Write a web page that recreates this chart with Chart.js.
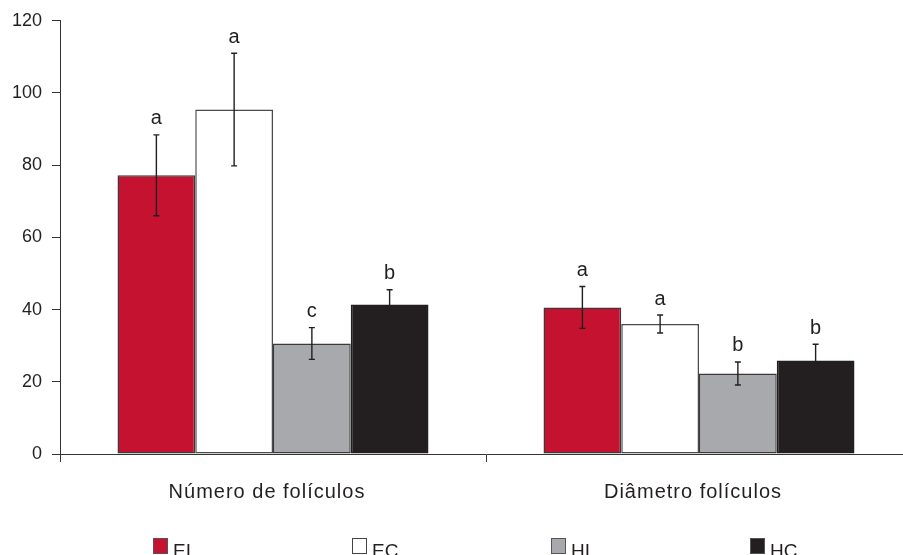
<!DOCTYPE html>
<html>
<head>
<meta charset="utf-8">
<script src="https://cdn.jsdelivr.net/npm/chart.js@4/dist/chart.umd.min.js"></script>
<style>
  html, body { margin: 0; padding: 0; background: #fff; overflow: hidden; }
  /* plot runs a few px past the right edge, like the axis line does */
  #wrap { width: 912px; height: 555px; }
</style>
</head>
<body>
<div id="wrap"><canvas id="chart"></canvas></div>
<script>
const categories = ['Número de folículos', 'Diâmetro folículos'];
const groups = ['EI', 'EC', 'HI', 'HC'];

const valEI = [77.2, 40.6];
const valEC = [95.4, 36.0];
const valHI = [30.6, 22.3];
const valHC = [41.4, 25.9];

const errEI = [11.2, 5.8];
const errEC = [15.6, 2.5];
const errHI = [4.4, 3.2];
const errHC = [4.1, 4.5];

const letEI = ['a', 'a'];
const letEC = ['a', 'a'];
const letHI = ['c', 'b'];
const letHC = ['b', 'b'];

const yTicks = [0, 20, 40, 60, 80, 100, 120];

const ink = '#231f20';
const fontFam = '"Liberation Sans", Arial, sans-serif';

function ds(label, data, err, letters, fill, border) {
  return {
    label: label,
    data: data,
    err: err,
    letters: letters,
    backgroundColor: fill,
    borderColor: border,
    borderWidth: 1.5,
    borderSkipped: false,
    barPercentage: 1,
    categoryPercentage: 0.73
  };
}

// error bars + significance letters, drawn on top of the bars
const errorBars = {
  id: 'errorBars',
  afterDatasetsDraw(chart) {
    const ctx = chart.ctx;
    const y = chart.scales.y;
    ctx.save();
    ctx.strokeStyle = ink;
    ctx.fillStyle = ink;
    ctx.lineWidth = 1.4;
    ctx.font = '20px ' + fontFam;
    ctx.textAlign = 'center';
    ctx.textBaseline = 'bottom';
    chart.data.datasets.forEach((d, i) => {
      chart.getDatasetMeta(i).data.forEach((bar, j) => {
        const v = d.data[j], e = d.err[j];
        const top = y.getPixelForValue(v + e);
        const bot = y.getPixelForValue(v - e);
        const x = bar.x;
        ctx.beginPath();
        ctx.moveTo(x, top); ctx.lineTo(x, bot);
        ctx.moveTo(x - 3, top); ctx.lineTo(x + 3, top);
        ctx.moveTo(x - 3, bot); ctx.lineTo(x + 3, bot);
        ctx.stroke();
        ctx.fillText(d.letters[j], x, top - 6);
      });
    });
    ctx.restore();
  }
};

// category names under the axis (canvas text so they can be tracked a bit wider)
const catLabels = {
  id: 'catLabels',
  afterDraw(chart) {
    const ctx = chart.ctx;
    const x = chart.scales.x;
    ctx.save();
    ctx.font = '20px ' + fontFam;
    ctx.letterSpacing = '1px';
    ctx.fillStyle = ink;
    ctx.textAlign = 'center';
    ctx.textBaseline = 'alphabetic';
    chart.data.labels.forEach((lab, i) => {
      ctx.fillText(lab, x.getPixelForTick(i) - 6, 498);
    });
    ctx.restore();
  }
};

// legend row along the bottom edge
const bottomLegend = {
  id: 'bottomLegend',
  afterDraw(chart) {
    const ctx = chart.ctx;
    ctx.save();
    ctx.font = '19px ' + fontFam;
    ctx.textBaseline = 'alphabetic';
    ctx.textAlign = 'left';
    chart.data.datasets.forEach((d, i) => {
      const x = 153 + i * 199;
      const yTop = 538;
      ctx.fillStyle = d.backgroundColor;
      ctx.fillRect(x, yTop, 15, 16);
      ctx.strokeStyle = i === 1 ? '#444' : '#555';
      ctx.lineWidth = 1;
      ctx.strokeRect(x + 0.5, yTop + 0.5, 14, 15);
      ctx.fillStyle = ink;
      ctx.fillText(d.label, x + 20, 557);
    });
    ctx.restore();
  }
};

new Chart(document.getElementById('chart'), {
  type: 'bar',
  data: {
    labels: categories,
    datasets: [
      ds(groups[0], valEI, errEI, letEI, '#c41230', '#3a3a3a'),
      ds(groups[1], valEC, errEC, letEC, '#ffffff', '#4a4a4a'),
      ds(groups[2], valHI, errHI, letHI, '#a7a9ac', '#3a3a3a'),
      ds(groups[3], valHC, errHC, letHC, '#231f20', '#231f20')
    ]
  },
  options: {
    responsive: true,
    maintainAspectRatio: false,
    animation: false,
    layout: { padding: { top: 19, right: 0, left: 0, bottom: 0 } },
    plugins: {
      legend: { display: false },
      tooltip: { enabled: false }
    },
    scales: {
      x: {
        offset: true,
        afterFit(s) { s.height = 101; },
        grid: { display: true, drawOnChartArea: false, tickLength: 8, color: '#333', offset: true },
        border: { display: true, color: '#333', width: 1 },
        ticks: { display: false }
      },
      y: {
        min: 0,
        max: 120,
        afterFit(s) { s.width = 60; },
        afterBuildTicks(s) { s.ticks = yTicks.map(v => ({ value: v })); },
        grid: { display: true, drawOnChartArea: false, tickLength: 8, color: '#333' },
        border: { display: true, color: '#333', width: 1 },
        ticks: { color: ink, padding: 10, font: { family: fontFam, size: 18 } }
      }
    }
  },
  plugins: [errorBars, catLabels, bottomLegend]
});
</script>
</body>
</html>
